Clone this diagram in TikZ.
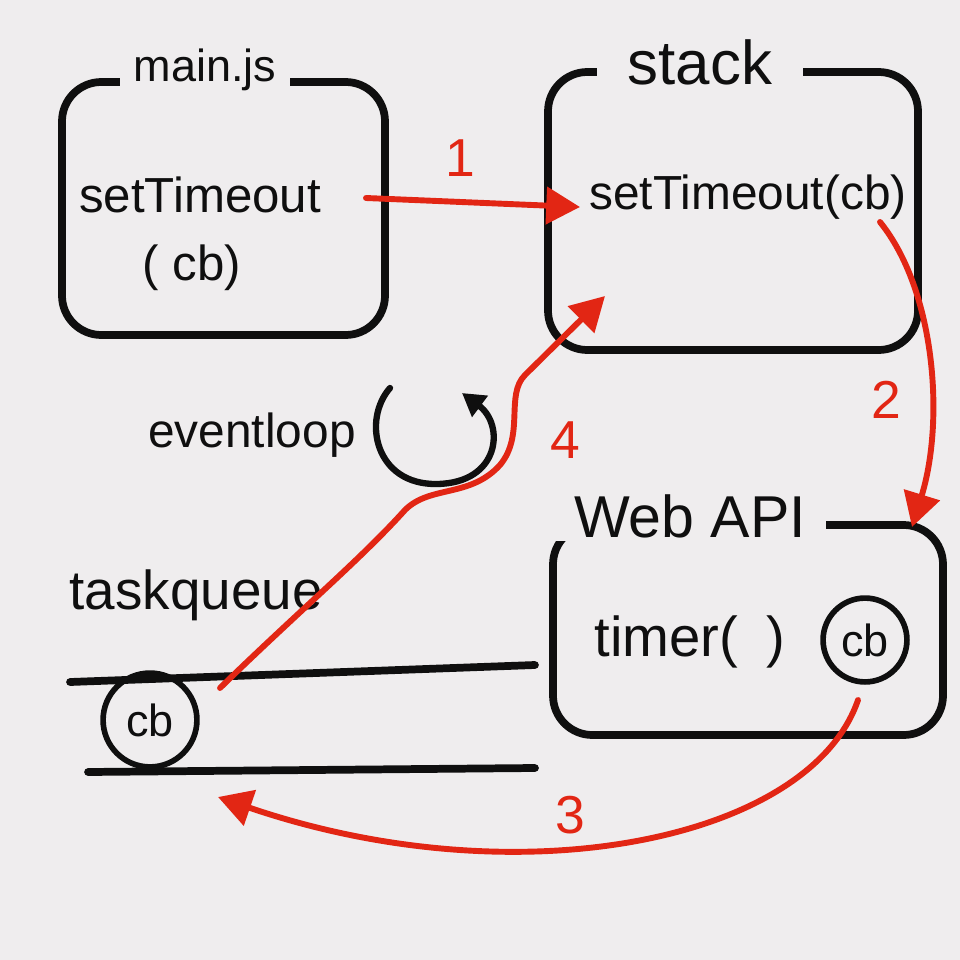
\documentclass[tikz,border=0pt]{standalone}
\usepackage{fontspec}
\setmainfont{Liberation Sans}
\usetikzlibrary{arrows.meta}
\definecolor{bg}{RGB}{239,237,238}
\definecolor{ink}{RGB}{15,15,15}
\definecolor{redink}{RGB}{226,38,20}
\newcommand{\fs}[1]{\fontsize{#1}{#1}\selectfont}
\tikzset{
  inkline/.style={draw=ink, line width=5.5pt, line cap=round, line join=round},
  boxshape/.style={inkline, rounded corners=28pt},
  title/.style={fill=bg, text=ink, inner xsep=10pt, inner ysep=2pt},
  txt/.style={text=ink, inner sep=0pt},
  redarrow/.style={draw=redink, line width=4.2pt, line cap=round,
    -{Triangle[length=24pt,width=26pt,fill=redink]}},
  numlabel/.style={text=redink, font=\fs{38}},
  circled/.style={circle, draw=ink, line width=4pt, text=ink, inner sep=0pt, minimum size=#1},
}
\begin{document}
\begin{tikzpicture}[x=0.025cm, y=-0.025cm]
\fill[bg] (0,0) rectangle (960,960);
\useasboundingbox (0,0) rectangle (960,960);

% boxes
\draw[boxshape] (62,82) rectangle (385,335);
\node[title, font=\fs{32}] (maintitle) at (205,70) {main.js};
\node[txt, font=\fs{35}] (maintext1) at (200,195) {setTimeout};
\node[txt, font=\fs{35}] (maintext2) at (192,268) {( cb)};

\draw[boxshape] (548,72) rectangle (918,350);
\node[title, font=\fs{44}, inner xsep=22pt] (stacktitle) at (700,62) {stack};
\node[txt, font=\fs{34}] (stacktext) at (748,197) {setTimeout(cb)};

\draw[boxshape] (553,525) rectangle (943,735);
\node[title, font=\fs{42}, inner xsep=14pt] (webtitle) at (690,516) {Web API};
\node[txt, font=\fs{40}] (timertext) at (690,642) {timer(\,\,\,)};
\node[circled=84pt*0.71, font=\fs{32}] (webcb) at (865,640) {cb};

% event loop
\node[txt, font=\fs{34}] (evtext) at (252,435) {eventloop};
\coordinate (evstart) at (390,388);
\coordinate (evend) at (462,393);
\draw[inkline, line width=4.5pt, -{Triangle[length=16pt,width=18pt,fill=ink]}]
  (evstart) .. controls (362,420) and (375,485) .. (437,484)
  .. controls (500,483) and (505,425) .. (evend);

% task queue
\node[txt, font=\fs{39}] (tqtext) at (196,595) {taskqueue};
\coordinate (tq1a) at (70,682);
\coordinate (tq1b) at (535,665);
\coordinate (tq2a) at (88,772);
\coordinate (tq2b) at (535,768);
\draw[inkline] (tq1a) -- (tq1b);
\draw[inkline] (tq2a) -- (tq2b);
\node[circled=94pt*0.71, font=\fs{32}] (qcb) at (150,720) {cb};

% arrows
\coordinate (a1s) at (366,198);
\coordinate (a1e) at (580,207);
\draw[redarrow] (a1s) -- (a1e);
\node[numlabel] (n1) at (460,158) {1};

\coordinate (a2s) at (880,222);
\coordinate (a2e) at (912,527);
\draw[redarrow] (a2s) .. controls (935,290) and (945,420) .. (a2e);
\node[numlabel] (n2) at (886,400) {2};

\coordinate (a3s) at (858,700);
\coordinate (a3e) at (218,797);
\draw[redarrow] (a3s) .. controls (810,840) and (520,900) .. (a3e);
\node[numlabel] (n3) at (570,815) {3};

\coordinate (a4s) at (220,688);
\coordinate (a4e) at (605,296);
\draw[redarrow] (a4s) .. controls (300,610) and (360,560) .. (405,510)
  .. controls (430,485) and (470,498) .. (500,465)
  .. controls (525,435) and (505,395) .. (525,375)
  -- (a4e);
\node[numlabel] (n4) at (565,440) {4};
\end{tikzpicture}
\end{document}
